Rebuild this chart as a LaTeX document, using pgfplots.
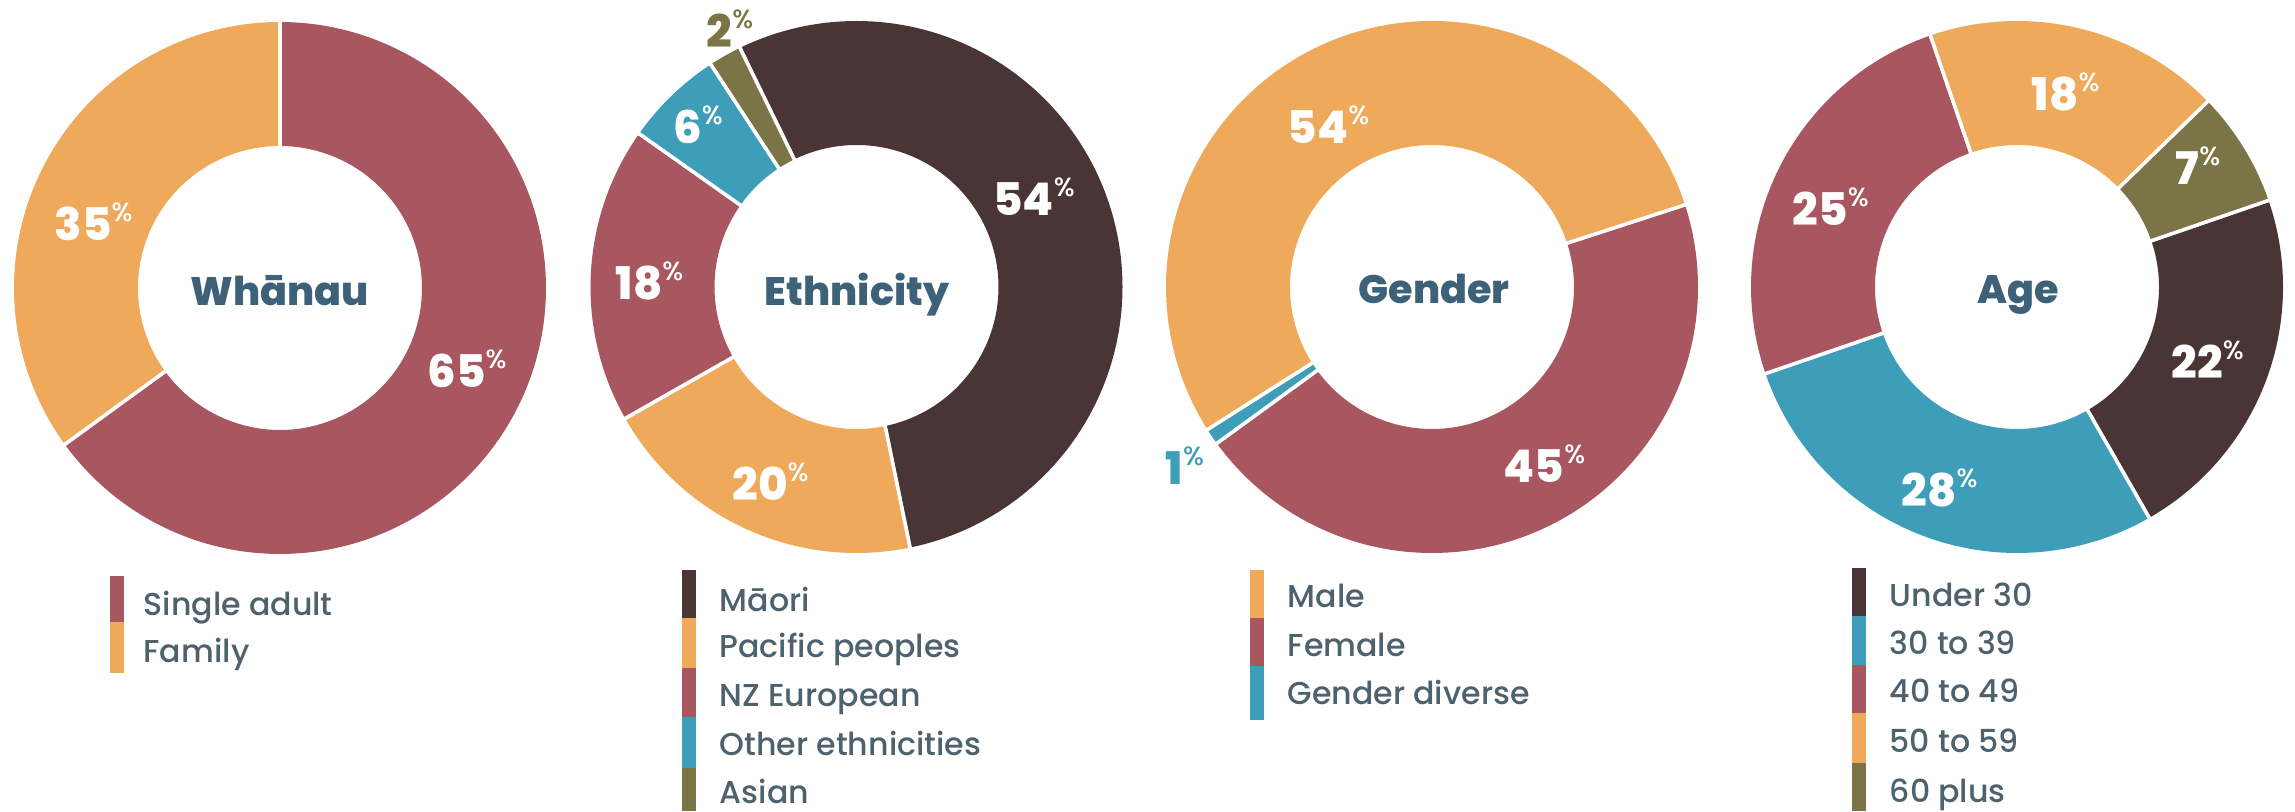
\documentclass[border=0pt]{standalone}
\usepackage{pgfplots}
\pgfplotsset{compat=1.18}
\usepackage{fontspec}
\setmainfont{Poppins}
\newfontfamily\popxb{Poppins ExtraBold}
\newfontfamily\popmed{Poppins Medium}
\definecolor{cred}{HTML}{A8565F}
\definecolor{corange}{HTML}{EEA95A}
\definecolor{cbrown}{HTML}{4A3536}
\definecolor{cteal}{HTML}{3E9EB9}
\definecolor{colive}{HTML}{7A7446}
\definecolor{ctitle}{HTML}{3C6178}
\definecolor{clegend}{HTML}{4E626E}

\def\ringr{204}
\def\ringw{12.4mm}
\newcommand{\startdonut}[1]{\xdef\curang{#1}}
% #1 cx, #2 cy, #3 percent, #4 colour ; slices run clockwise
\newcommand{\slice}[4]{%
  \pgfmathsetmacro\endang{\curang-3.6*#3}%
  \edef\doslice{\noexpand\addplot[draw=#4, line width=\ringw, line join=round, domain=\endang:\curang, samples=120, forget plot] ({#1+\ringr*cos(x)},{#2+\ringr*sin(x)});}%
  \doslice
  \edef\dosep{\noexpand\addplot[draw=white, line width=0.35mm, domain=138:272, samples=2, forget plot] ({#1+x*cos(\curang)},{#2+x*sin(\curang)});
    \noexpand\addplot[draw=white, line width=0.35mm, domain=138:272, samples=2, forget plot] ({#1+x*cos(\endang)},{#2+x*sin(\endang)});}%
  \dosep
  \xdef\curang{\endang}%
}
\newcommand{\pct}[2][white]{{\color{#1}\fontsize{12.8}{13}\selectfont\popxb #2\raisebox{1.9mm}{\fontsize{7.5}{8}\selectfont\popmed\%}}}
\newcommand{\ttl}[1]{{\color{ctitle}\fontsize{11.3}{12}\selectfont\popxb #1}}
\newcommand{\leg}[1]{{\color{clegend}\fontsize{9}{10}\selectfont\popmed #1}}

\begin{document}
\begin{tikzpicture}
\begin{axis}[width=229.5mm, height=81.1mm, scale only axis,
  xmin=0, xmax=2295, ymin=0, ymax=811, hide axis, clip=false, no markers]
\path (axis cs:0,0) rectangle (axis cs:2295,811);

% ---- Whanau
\startdonut{90}
\slice{280}{523}{65}{cred}
\slice{280}{523}{35}{corange}
% ---- Ethnicity
\startdonut{116}
\slice{856.5}{524}{54}{cbrown}
\slice{856.5}{524}{20}{corange}
\slice{856.5}{524}{18}{cred}
\slice{856.5}{524}{6}{cteal}
\slice{856.5}{524}{2}{colive}
% ---- Gender
\startdonut{18}
\slice{1432}{524}{45}{cred}
\slice{1432}{524}{1}{cteal}
\slice{1432}{524}{54}{corange}
% ---- Age
\startdonut{19}
\slice{2017}{524}{22}{cbrown}
\slice{2017}{524}{28}{cteal}
\slice{2017}{524}{25}{cred}
\slice{2017}{524}{18}{corange}
\slice{2017}{524}{7}{colive}

% titles
\node[anchor=base, inner sep=0] at (axis cs:280,505) {\ttl{Whānau}};
\node[anchor=base, inner sep=0] at (axis cs:857,505) {\ttl{Ethnicity}};
\node[anchor=base, inner sep=0] at (axis cs:1434,507) {\ttl{Gender}};
\node[anchor=base, inner sep=0] at (axis cs:2018,507) {\ttl{Age}};

% percentage labels
\node[anchor=base west, inner sep=0] at (axis cs:54,570.5) {\pct{35}};
\node[anchor=base west, inner sep=0] at (axis cs:427,423) {\pct{65}};
\node[anchor=base west, inner sep=0] at (axis cs:706,763) {\pct[colive]{2}};
\node[anchor=base west, inner sep=0] at (axis cs:672.5,667) {\pct{6}};
\node[anchor=base west, inner sep=0] at (axis cs:992.5,595) {\pct{54}};
\node[anchor=base west, inner sep=0] at (axis cs:615,511.3) {\pct{18}};
\node[anchor=base west, inner sep=0] at (axis cs:731.7,310) {\pct{20}};
\node[anchor=base west, inner sep=0] at (axis cs:1287,667) {\pct{54}};
\node[anchor=base west, inner sep=0] at (axis cs:1503,328) {\pct{45}};
\node[anchor=base west, inner sep=0] at (axis cs:1165,326) {\pct[cteal]{1}};
\node[anchor=base west, inner sep=0] at (axis cs:2031,700) {\pct{18}};
\node[anchor=base west, inner sep=0] at (axis cs:2175,626) {\pct{7}};
\node[anchor=base west, inner sep=0] at (axis cs:1792,585) {\pct{25}};
\node[anchor=base west, inner sep=0] at (axis cs:2171,432) {\pct{22}};
\node[anchor=base west, inner sep=0] at (axis cs:1901,304) {\pct{28}};

% legends
\fill[cred] (axis cs:110,235.3) rectangle (axis cs:124,189.3);
\fill[corange] (axis cs:110,189.3) rectangle (axis cs:124,138);
\node[anchor=base west, inner sep=0] at (axis cs:143,195) {\leg{Single adult}};
\node[anchor=base west, inner sep=0] at (axis cs:143,148) {\leg{Family}};

\fill[cbrown] (axis cs:682,241) rectangle (axis cs:696,193);
\fill[corange] (axis cs:682,193) rectangle (axis cs:696,143);
\fill[cred] (axis cs:682,143) rectangle (axis cs:696,94);
\fill[cteal] (axis cs:682,94) rectangle (axis cs:696,43);
\fill[colive] (axis cs:682,43) rectangle (axis cs:696,0);
\node[anchor=base west, inner sep=0] at (axis cs:719,199.3) {\leg{Māori}};
\node[anchor=base west, inner sep=0] at (axis cs:719,153) {\leg{Pacific peoples}};
\node[anchor=base west, inner sep=0] at (axis cs:719,104.3) {\leg{NZ European}};
\node[anchor=base west, inner sep=0] at (axis cs:719,56) {\leg{Other ethnicities}};
\node[anchor=base west, inner sep=0] at (axis cs:719,8) {\leg{Asian}};

\fill[corange] (axis cs:1250,241) rectangle (axis cs:1264,193);
\fill[cred] (axis cs:1250,193) rectangle (axis cs:1264,145);
\fill[cteal] (axis cs:1250,145) rectangle (axis cs:1264,91);
\node[anchor=base west, inner sep=0] at (axis cs:1287,203) {\leg{Male}};
\node[anchor=base west, inner sep=0] at (axis cs:1287,154) {\leg{Female}};
\node[anchor=base west, inner sep=0] at (axis cs:1287,106) {\leg{Gender diverse}};

\fill[cbrown] (axis cs:1852,243) rectangle (axis cs:1866,195);
\fill[cteal] (axis cs:1852,195) rectangle (axis cs:1866,146);
\fill[cred] (axis cs:1852,146) rectangle (axis cs:1866,98);
\fill[corange] (axis cs:1852,98) rectangle (axis cs:1866,48);
\fill[colive] (axis cs:1852,48) rectangle (axis cs:1866,0);
\node[anchor=base west, inner sep=0] at (axis cs:1889,204) {\leg{Under 30}};
\node[anchor=base west, inner sep=0] at (axis cs:1889,156) {\leg{30 to 39}};
\node[anchor=base west, inner sep=0] at (axis cs:1889,108) {\leg{40 to 49}};
\node[anchor=base west, inner sep=0] at (axis cs:1889,59) {\leg{50 to 59}};
\node[anchor=base west, inner sep=0] at (axis cs:1889,9) {\leg{60 plus}};
\end{axis}
\end{tikzpicture}
\end{document}
